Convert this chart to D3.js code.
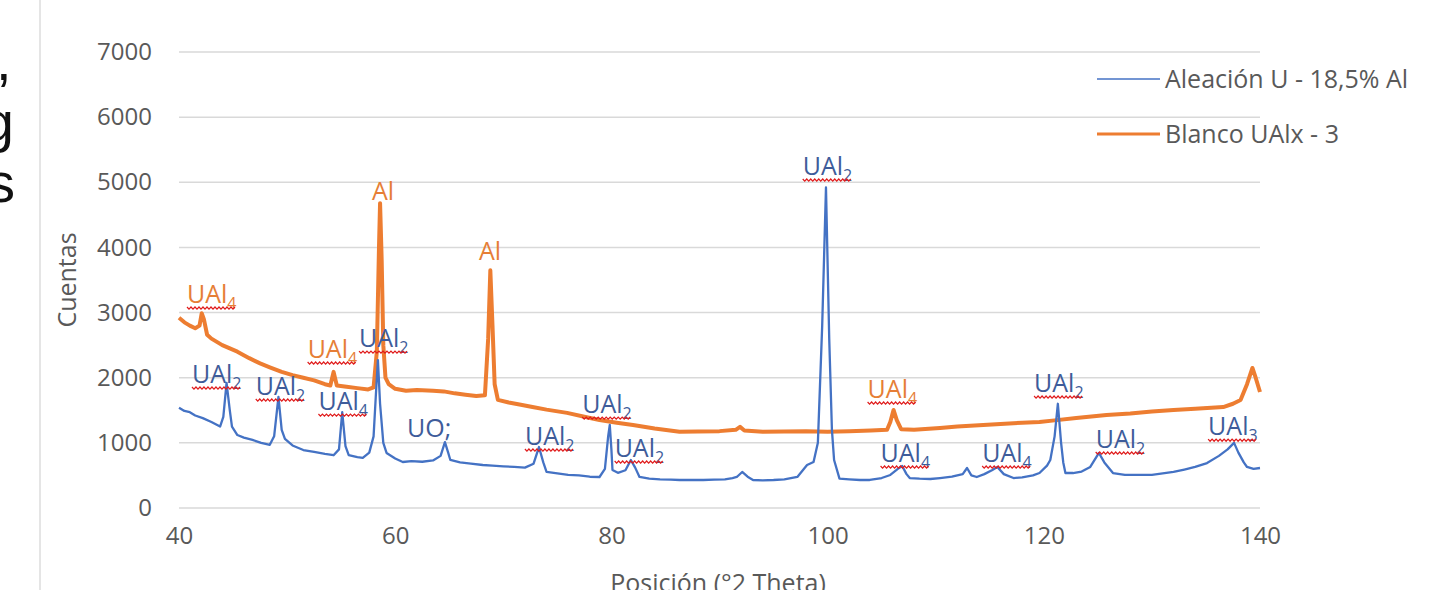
<!DOCTYPE html>
<html>
<head>
<meta charset="utf-8">
<script src="https://cdn.jsdelivr.net/npm/d3@7"></script>
<style>
  body { margin: 0; background: #fff; }
  svg { display: block; }
</style>
</head>
<body>
<svg width="1434" height="590"></svg>
<script>
  // Blanco UAlx - 3 (orange)
  const blancoTheta = [40.0, 40.5, 41.0, 41.5, 41.9, 42.1, 42.3, 42.6, 43.0, 44.0, 45.4, 46.5, 47.5, 48.4, 49.5, 50.5,
    51.5, 52.5, 53.5, 54.0, 54.3, 54.6, 55.5, 56.5, 57.5, 58.0, 58.3, 58.5, 58.6, 58.75, 58.9, 59.1, 59.4, 60.0,
    61.0, 62.0, 63.5, 64.5, 65.5, 66.5, 67.5, 68.3, 68.6, 68.8, 69.0, 69.2, 69.5, 70.5, 71.5, 72.7, 74.0, 75.9,
    77.5, 78.9, 80.5, 82.0, 84.0, 86.3, 88.0, 90.0, 91.5, 91.9, 92.3, 94.0, 96.0, 98.0, 100.0, 102.0, 104.0,
    105.5, 105.8, 106.1, 106.4, 106.8, 108.0, 110.4, 112.0, 114.0, 116.0, 118.0, 119.6, 121.0, 123.0, 125.8,
    128.0, 130.0, 132.0, 134.0, 136.6, 137.5, 138.2, 138.8, 139.3, 139.6, 140.0];
  const blancoCounts = [2920, 2850, 2800, 2760, 2800, 2990, 2900, 2660, 2600, 2500, 2400, 2300, 2220, 2160, 2090, 2040,
    2000, 1960, 1900, 1880, 2090, 1880, 1860, 1840, 1820, 1850, 2400, 4000, 4680, 3800, 2500, 2000, 1900, 1830,
    1800, 1810, 1800, 1790, 1760, 1740, 1720, 1730, 2600, 3650, 2800, 1900, 1660, 1620, 1590, 1550, 1510, 1460,
    1400, 1350, 1310, 1275, 1220, 1170, 1175, 1180, 1200, 1245, 1190, 1170, 1175, 1180, 1170, 1180, 1190,
    1200, 1320, 1505, 1350, 1210, 1200, 1228, 1250, 1270, 1290, 1310, 1320, 1345, 1380, 1428,
    1450, 1480, 1505, 1525, 1550, 1600, 1658, 1900, 2150, 2000, 1780];

  // Aleación U - 18,5% Al (blue)
  const aleacionTheta = [40.0, 40.5, 41.0, 41.5, 42.2, 43.0, 43.8, 44.1, 44.4, 44.7, 44.9, 45.4, 46.0, 46.8, 47.6, 48.4,
    48.8, 49.2, 49.5, 49.8, 50.5, 51.5, 52.5, 53.5, 54.3, 54.8, 55.1, 55.4, 55.7, 56.5, 57.0, 57.6, 58.0, 58.2,
    58.4, 58.6, 58.9, 59.2, 60.0, 60.7, 61.5, 62.5, 63.5, 64.2, 64.6, 64.9, 65.1, 66.0, 67.0, 68.1, 69.0, 70.0,
    71.0, 72.0, 72.8, 73.3, 73.7, 74.0, 75.0, 76.0, 77.0, 78.0, 78.9, 79.4, 79.7, 79.85, 80.0, 80.1, 80.6, 81.3,
    81.8, 82.2, 82.6, 83.5, 84.5, 85.5, 86.3, 87.5, 88.5, 89.5, 90.5, 91.2, 91.6, 92.1, 92.6, 93.1, 94.0, 95.0,
    96.0, 97.2, 98.1, 98.7, 99.1, 99.5, 99.85, 100.15, 100.4, 100.6, 101.1, 102.0, 103.0, 103.9, 105.0, 105.8,
    106.5, 106.9, 107.3, 107.6, 108.5, 109.5, 110.4, 111.5, 112.5, 112.9, 113.3, 113.8, 114.5, 115.2, 115.7,
    116.3, 117.2, 118.0, 119.0, 119.6, 120.3, 120.6, 121.0, 121.3, 121.6, 121.8, 122.0, 122.7, 123.5, 124.3,
    125.1, 125.6, 126.4, 127.5, 128.9, 130.0, 131.0, 132.0, 133.0, 134.0, 135.1, 136.2, 137.0, 137.6, 138.0,
    138.5, 138.8, 139.4, 140.0];
  const aleacionCounts = [1540, 1490, 1470, 1420, 1380, 1320, 1250, 1400, 1920, 1500, 1250, 1120, 1080, 1045, 1000, 970,
    1100, 1705, 1200, 1060, 960, 890, 860, 830, 810, 900, 1470, 950, 810, 780, 770, 850, 1100, 1700,
    2270, 1600, 1000, 845, 760, 706, 720, 710, 730, 800, 1010, 850, 737, 700, 680, 660, 650, 640,
    630, 620, 680, 936, 700, 553, 530, 510, 500, 480, 476, 600, 1100, 1274, 900, 583, 540, 580,
    737, 620, 476, 450, 440, 435, 430, 430, 430, 435, 440, 460, 476, 553, 480, 430, 425, 430,
    440, 476, 660, 706, 1000, 2800, 4920, 2600, 1200, 737, 450, 440, 430, 430, 460, 507,
    600, 645, 520, 460, 450, 445, 460, 480, 520, 614, 500, 476, 520, 580, 630,
    520, 460, 470, 500, 537, 650, 737, 1100, 1600, 1000, 700, 537, 537, 560, 630,
    845, 700, 537, 510, 507, 510, 530, 553, 590, 630, 690, 800, 900, 1000, 850,
    700, 630, 600, 614];

  const xTicks = [40, 60, 80, 100, 120, 140];
  const yTicks = [0, 1000, 2000, 3000, 4000, 5000, 6000, 7000];

  // phase labels: text, subscript, anchor (theta, counts) of left/baseline, series colour
  const labelText   = ["UAl", "UAl", "UAl", "UAl", "UAl", "UAl", "Al", "Al", "UO;", "UAl", "UAl", "UAl", "UAl", "UAl", "UAl", "UAl", "UAl", "UAl", "UAl"];
  const labelSub    = ["4", "2", "2", "4", "4", "2", "", "", "", "2", "2", "2", "2", "4", "4", "4", "2", "2", "3"];
  const labelTheta  = [40.74, 41.2, 47.1, 51.9, 52.9, 56.65, 57.85, 67.75, 61.1, 72.0, 77.3, 80.3, 97.7, 103.7, 104.9, 114.3, 119.1, 124.8, 135.2];
  const labelCounts = [3147, 1919, 1735, 2303, 1504, 2471, 4728, 3807, 1090, 967, 1458, 783, 5112, 1689, 706, 706, 1781, 921, 1120];
  const labelSeries = ["b", "a", "a", "b", "a", "a", "b", "b", "a", "a", "a", "a", "a", "b", "a", "a", "a", "a", "a"];

  const svg = d3.select("svg"),
        font = "'Open Sans', sans-serif",
        margin = {top: 52, right: 174, bottom: 82, left: 179};
  const width = +svg.attr("width"), height = +svg.attr("height");

  const x = d3.scaleLinear().domain([40, 140]).range([margin.left, width - margin.right]);
  const y = d3.scaleLinear().domain([0, 7000]).range([height - margin.bottom, margin.top]);

  const blue = "#4472C4", orange = "#ED7D31";
  const labelColor = {a: "#3E5C9A", b: "#E67E36"};

  // slide remnants on the left edge (cut off in the screenshot)
  svg.append("line").attr("x1", 40).attr("x2", 40).attr("y1", 0).attr("y2", height)
    .attr("stroke", "#dcdcdc").attr("stroke-width", 1.5);
  const slide = svg.append("g").attr("font-family", "'Liberation Sans', Arial, sans-serif")
    .attr("font-size", 56).attr("fill", "#111");
  slide.append("text").attr("x", -4).attr("y", 80).text(",");
  slide.append("text").attr("x", 14).attr("y", 141).attr("text-anchor", "end").text("ng");
  slide.append("text").attr("x", 15).attr("y", 202).attr("text-anchor", "end").text("es");

  // gridlines
  svg.append("g").selectAll("line").data(yTicks).join("line")
    .attr("x1", x(40)).attr("x2", x(140))
    .attr("y1", d => y(d)).attr("y2", d => y(d))
    .attr("stroke", "#d9d9d9").attr("stroke-width", 1.5);

  // axes (text only, Excel style)
  const yAxis = svg.append("g")
    .attr("transform", `translate(${x(40) - 27},0)`)
    .call(d3.axisLeft(y).tickValues(yTicks).tickFormat(d3.format("d")).tickSize(0).tickPadding(0));
  yAxis.select(".domain").remove();
  yAxis.selectAll("text").attr("font-family", font).attr("font-size", 24).attr("fill", "#595959");

  const xAxis = svg.append("g")
    .attr("transform", `translate(0,${y(0) + 19})`)
    .call(d3.axisBottom(x).tickValues(xTicks).tickFormat(d3.format("d")).tickSize(0).tickPadding(0));
  xAxis.select(".domain").remove();
  xAxis.selectAll("text").attr("font-family", font).attr("font-size", 24).attr("fill", "#595959");

  svg.append("text").attr("x", 718).attr("y", 592).attr("text-anchor", "middle")
    .attr("font-family", font).attr("font-size", 25).attr("fill", "#595959")
    .text("Posición (°2 Theta)");
  svg.append("text").attr("transform", "translate(76,280) rotate(-90)").attr("text-anchor", "middle")
    .attr("font-family", font).attr("font-size", 25).attr("fill", "#595959")
    .text("Cuentas");

  // series
  const line = d3.line().x(d => x(d[0])).y(d => y(d[1]));
  svg.append("path").datum(d3.zip(blancoTheta, blancoCounts))
    .attr("fill", "none").attr("stroke", orange).attr("stroke-width", 4).attr("stroke-linejoin", "round")
    .attr("d", line);
  svg.append("path").datum(d3.zip(aleacionTheta, aleacionCounts))
    .attr("fill", "none").attr("stroke", blue).attr("stroke-width", 2.3).attr("stroke-linejoin", "round")
    .attr("d", line);

  // labels
  const labels = svg.append("g").attr("font-family", font);
  labelText.forEach((t, i) => {
    const lx = x(labelTheta[i]), ly = y(labelCounts[i]);
    const txt = labels.append("text").attr("x", lx).attr("y", ly)
      .attr("font-size", 25).attr("fill", labelColor[labelSeries[i]]);
    txt.append("tspan").text(t);
    if (labelSub[i]) txt.append("tspan").attr("dy", 6).attr("font-size", 16).text(labelSub[i]);
    if (t === "UAl") {
      const w = txt.node().getComputedTextLength();
      let d = `M${lx},${ly + 4}`;
      for (let k = 0, xx = lx; xx < lx + w - 2; k++) {
        xx += 2;
        d += `L${xx},${ly + 4 + (k % 2 ? 0 : 2.2)}`;
      }
      labels.append("path").attr("d", d).attr("fill", "none")
        .attr("stroke", "#e01b1b").attr("stroke-width", 1.2);
    }
  });

  // legend
  const legend = svg.append("g").attr("font-family", font).attr("font-size", 25).attr("fill", "#595959");
  [["Aleación U - 18,5% Al", blue, 1.6, 79], ["Blanco UAlx - 3", orange, 3, 134]].forEach(([name, c, w, ly]) => {
    legend.append("line").attr("x1", 1097).attr("x2", 1160).attr("y1", ly).attr("y2", ly)
      .attr("stroke", c).attr("stroke-width", w);
    legend.append("text").attr("x", 1165).attr("y", ly + 9).text(name);
  });
</script>
</body>
</html>
